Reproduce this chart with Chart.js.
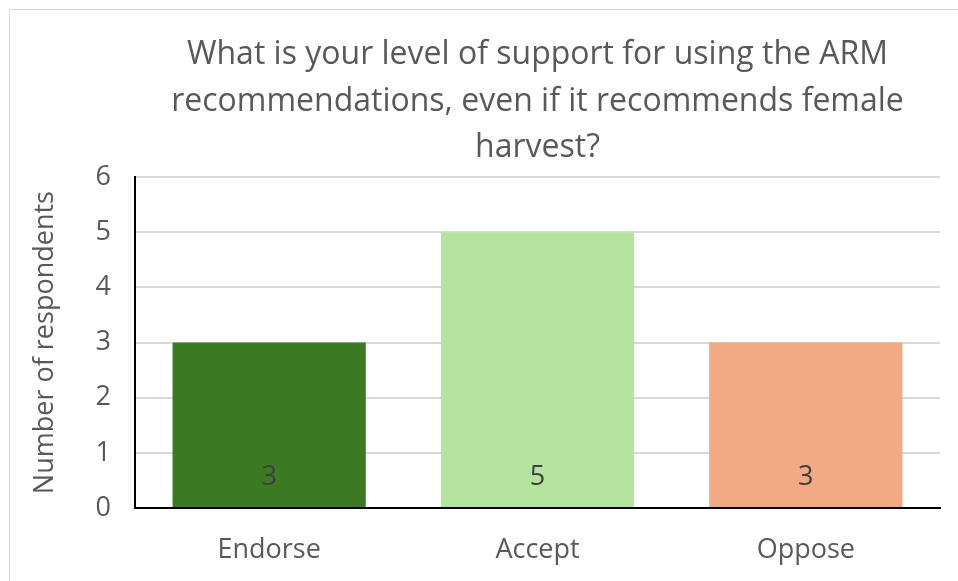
<!DOCTYPE html>
<html>
<head>
<meta charset="utf-8">
<script src="https://cdn.jsdelivr.net/npm/chart.js@4.4.1/dist/chart.umd.min.js"></script>
<style>
  html, body { margin: 0; padding: 0; background: #fff; overflow: hidden; }
  #wrap { position: relative; width: 958px; height: 581px; }
  #frame { position: absolute; left: 9px; top: 9px; width: 1000px; height: 700px; border: 1.5px solid #d9d9d9; box-sizing: border-box; }
  canvas { position: absolute; left: 0; top: 0; }
</style>
</head>
<body>
<div id="wrap">
  <div id="frame"></div>
  <canvas id="c" width="958" height="581"></canvas>
</div>
<script>
const titleLines = ["What is your level of support for using the ARM", "recommendations, even if it recommends female", "harvest?"];
const categories = ["Endorse", "Accept", "Oppose"];
const responses = [3, 5, 3];
const barColors = ["#3b7a23", "#b4e4a0", "#f2aa84"];
const yTicks = [0, 1, 2, 3, 4, 5, 6];
const yAxisTitle = "Number of respondents";

const FONT = "'Open Sans', 'Noto Sans', sans-serif";

const valueLabels = {
  id: 'valueLabels',
  afterDatasetsDraw(chart) {
    const ctx = chart.ctx;
    const meta = chart.getDatasetMeta(0);
    ctx.save();
    ctx.fillStyle = '#404040';
    ctx.font = "27px " + FONT;
    ctx.textAlign = 'center';
    ctx.textBaseline = 'middle';
    meta.data.forEach((bar, i) => {
      ctx.fillText(String(chart.data.datasets[0].data[i]), bar.x, bar.base - 30);
    });
    ctx.restore();
  }
};

new Chart(document.getElementById('c'), {
  type: 'bar',
  data: {
    labels: categories,
    datasets: [{
      data: responses,
      backgroundColor: barColors,
      borderWidth: 0,
      categoryPercentage: 1.0,
      barPercentage: 0.72
    }]
  },
  options: {
    responsive: false,
    animation: false,
    devicePixelRatio: 1,
    layout: { padding: { left: 29, right: 18, top: 0, bottom: 0 } },
    plugins: {
      legend: { display: false },
      tooltip: { enabled: false },
      title: {
        display: true,
        fullSize: false,
        text: titleLines,
        color: '#595959',
        font: { family: FONT, size: 32, weight: 'normal', lineHeight: 1.45 },
        padding: { top: 32, bottom: 6 }
      }
    },
    scales: {
      x: {
        afterFit(scale) { scale.height = 73; },
        grid: { display: false, drawTicks: false },
        border: { display: true, color: '#000', width: 2 },
        ticks: { color: '#595959', font: { family: FONT, size: 27 }, padding: 26 }
      },
      y: {
        min: yTicks[0],
        max: yTicks[yTicks.length - 1],
        afterFit(scale) { scale.width = 106; },
        afterBuildTicks(scale) { scale.ticks = yTicks.map(v => ({ value: v })); },
        grid: { color: '#d9d9d9', lineWidth: 2, drawTicks: false },
        border: { display: true, color: '#000', width: 2 },
        ticks: { color: '#595959', font: { family: FONT, size: 27 }, padding: 24 },
        title: {
          display: true,
          text: yAxisTitle,
          color: '#595959',
          font: { family: FONT, size: 27, lineHeight: 1.2 },
          padding: { top: 0, bottom: 0 }
        }
      }
    }
  },
  plugins: [valueLabels]
});
</script>
</body>
</html>
